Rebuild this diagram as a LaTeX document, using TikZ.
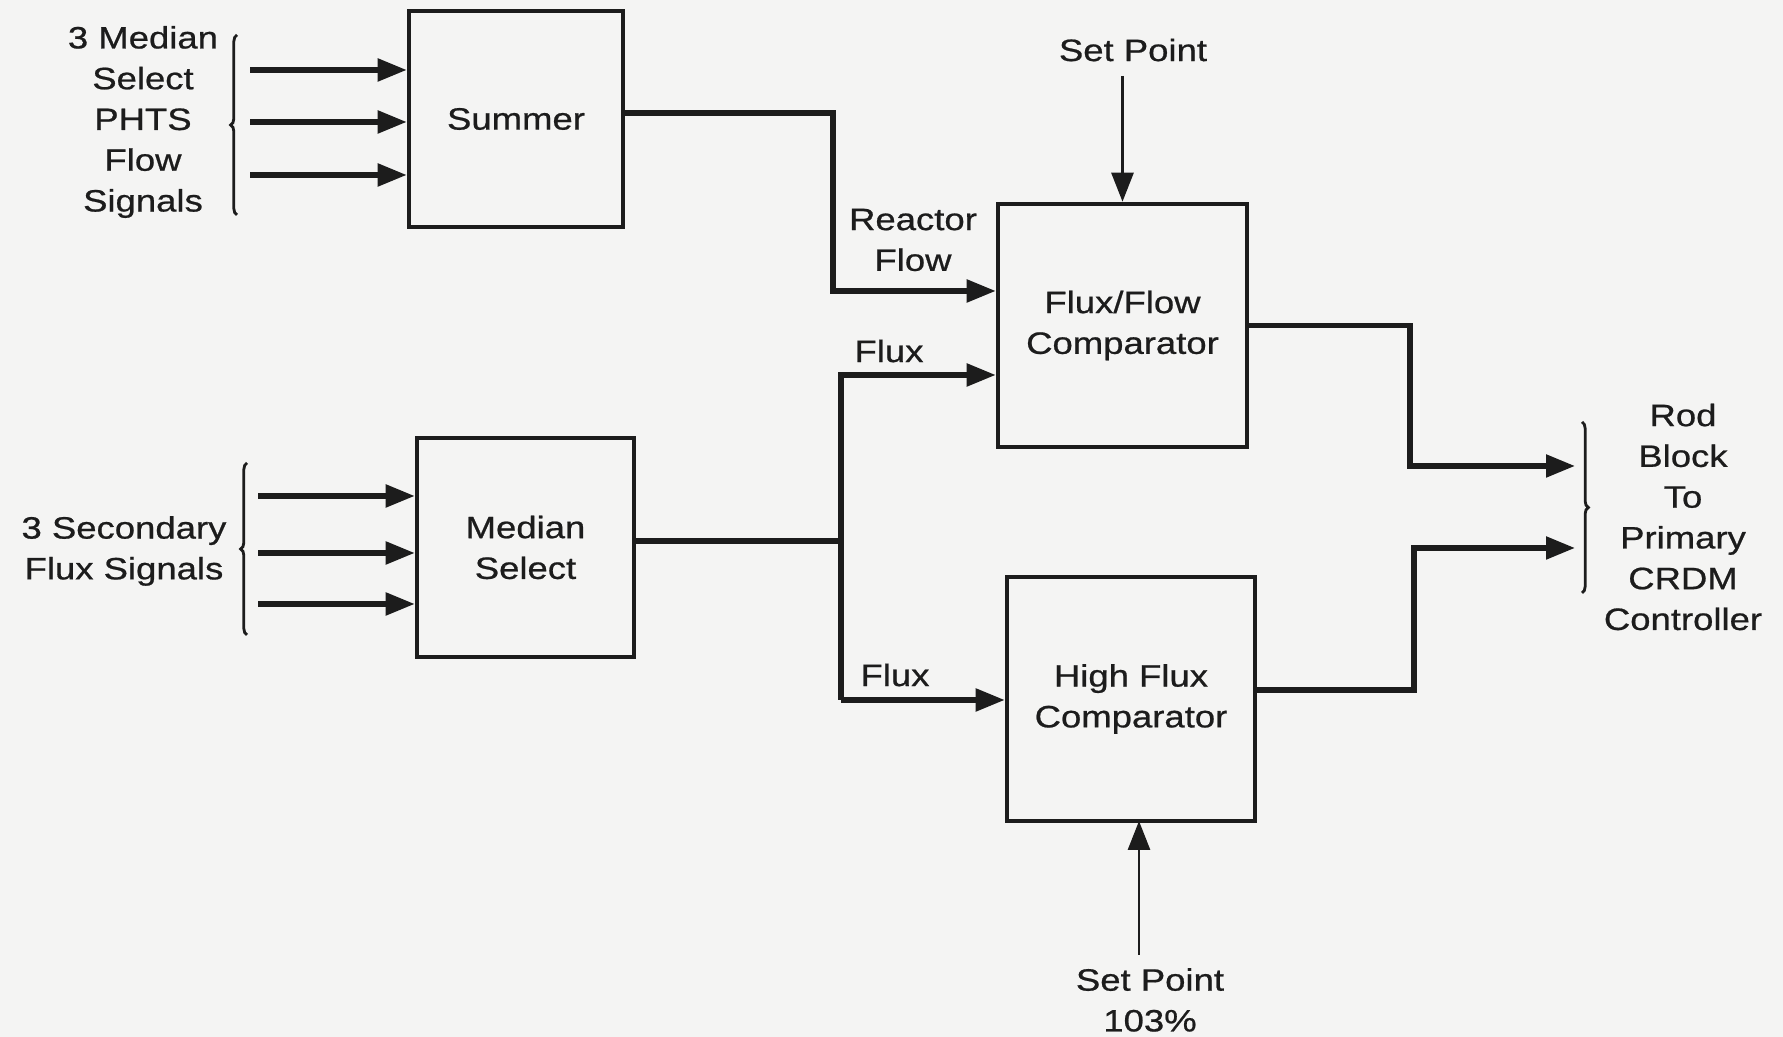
\documentclass[tikz,border=0pt]{standalone}
\usepackage{fontspec}
\setmainfont{Liberation Sans}[FakeStretch=1.18, FakeBold=0.7]
\usetikzlibrary{arrows.meta, decorations.pathreplacing}
\definecolor{papel}{RGB}{244,244,243}
\definecolor{tinta}{RGB}{28,28,28}

\begin{document}
\begin{tikzpicture}[>={Triangle[length=2.9mm, width=2.2mm]}, line width=1pt, color=tinta,
  font=\fontsize{8.8}{11.6}\selectfont,
  bloque/.style={draw, line width=1.3pt, align=center, inner sep=0pt},
  senal/.style={line width=1.5pt},
  consigna/.style={line width=0.8pt},
  etiq/.style={align=center, inner sep=1pt},
  llave/.style={line width=0.8pt, decorate, decoration={brace, amplitude=1.8pt}}]
  % fondo del papel escaneado
  \fill[papel] (0,0) rectangle (17.83,10.37);
  % bloques
  \node[bloque, minimum width=2.14cm, minimum height=2.16cm] (summer) at (5.16,9.18) {Summer};
  \node[bloque, minimum width=2.17cm, minimum height=2.19cm] (median) at (5.255,4.895) {Median\\Select};
  \node[bloque, minimum width=2.49cm, minimum height=2.43cm] (fluxflow) at (11.225,7.115) {Flux/Flow\\Comparator};
  \node[bloque, minimum width=2.48cm, minimum height=2.44cm] (highflux) at (11.31,3.38) {High Flux\\Comparator};
  % textos
  \node[etiq] (phts) at (1.43,9.15) {3 Median\\Select\\PHTS\\Flow\\Signals};
  \node[etiq] (secflux) at (1.24,4.86) {3 Secondary\\Flux Signals};
  \node[etiq] (rodblock) at (16.83,5.20) {Rod\\Block\\To\\Primary\\CRDM\\Controller};
  \node[etiq] (rflow) at (9.13,7.97) {Reactor\\Flow};
  \node[etiq] (fluxa) at (8.89,6.86) {Flux};
  \node[etiq] (fluxb) at (8.95,3.62) {Flux};
  \node[etiq] (sptop) at (11.33,9.87) {Set Point};
  \node[etiq] (spbot) at (11.50,0.37) {Set Point\\103\%};
  % llaves
  \draw[llave] (2.37,8.22) -- (2.37,10.02);
  \draw[llave] (2.47,4.02) -- (2.47,5.74);
  \draw[llave] (15.82,6.15) -- (15.82,4.44);
  % entradas de caudal y de flujo
  \foreach \y [count=\i] in {9.67,9.15,8.62} {
    \coordinate (inA\i) at (2.50,\y);
    \draw[senal,->] (inA\i) -- (inA\i -| summer.west);
  }
  \foreach \y [count=\i] in {5.41,4.84,4.33} {
    \coordinate (inB\i) at (2.58,\y);
    \draw[senal,->] (inB\i) -- (inB\i -| median.west);
  }
  % caudal del reactor
  \coordinate (rfbend) at (8.33,7.46);
  \draw[senal,->] ([yshift=0.06cm]summer.east) -| (rfbend) -- (rfbend -| fluxflow.west);
  % flujo hacia los dos comparadores
  \coordinate (fluxup) at (8.41,6.62);
  \coordinate (fluxdn) at (8.41,3.37);
  \draw[senal] ([yshift=0.065cm]median.east) -- ([yshift=0.065cm]median.east -| fluxup);
  \draw[senal,->] (fluxdn) |- (fluxup) -- (fluxup -| fluxflow.west);
  \draw[senal,->] (fluxdn) -- (fluxdn -| highflux.west);
  % salidas al bloqueo de barras
  \coordinate (outA) at (15.75,5.71);
  \coordinate (outB) at (15.75,4.89);
  \draw[senal,->] (fluxflow.east) -| (14.10,5.71) -- (outA);
  \draw[senal,->] ([yshift=0.09cm]highflux.east) -| (14.14,4.89) -- (outB);
  % consignas
  \coordinate (spin) at (11.39,2.16);
  \draw[consigna,->] (fluxflow.north |- 11,9.61) -- (fluxflow.north);
  \draw[consigna,->] (11.39,0.82) -- (spin);
\end{tikzpicture}
\end{document}
